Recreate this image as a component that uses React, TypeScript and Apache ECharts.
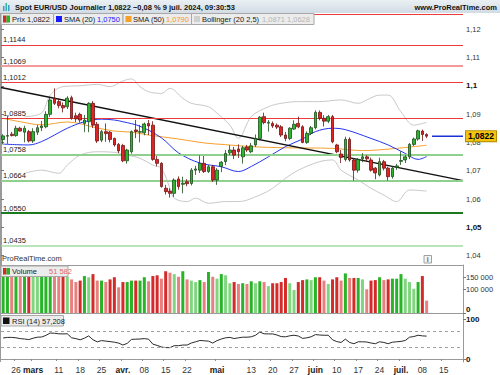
import React, { useEffect, useRef } from 'react';
import * as echarts from 'echarts';

const FONT = '"Liberation Sans", Arial, sans-serif';

// ---------- data ----------
const startDate = '2024-02-21';
const slotCount = 108; // trading-day slots shown on the time axis (through 19 juil.)

// [open, high, low, close]
const candles: number[][] = [
  [1.0810, 1.0829, 1.0793, 1.0823], [1.0822, 1.0895, 1.0795, 1.0824], [1.0829, 1.0837, 1.0821, 1.0824],
  [1.0824, 1.0859, 1.0820, 1.0850], [1.0850, 1.0855, 1.0838, 1.0840], [1.0836, 1.0859, 1.0800, 1.0850],
  [1.0838, 1.0844, 1.0800, 1.0805], [1.0805, 1.0850, 1.0798, 1.0838], [1.0836, 1.0862, 1.0826, 1.0852],
  [1.0852, 1.0876, 1.0840, 1.0858], [1.0855, 1.0910, 1.0850, 1.0899], [1.0899, 1.0958, 1.0890, 1.0950],
  [1.0956, 1.0991, 1.0932, 1.0938], [1.0944, 1.0955, 1.0920, 1.0930], [1.0930, 1.0941, 1.0906, 1.0922],
  [1.0926, 1.0963, 1.0918, 1.0956], [1.0958, 1.0965, 1.0880, 1.0885], [1.0894, 1.0905, 1.0872, 1.0883],
  [1.0899, 1.0905, 1.0870, 1.0879], [1.0867, 1.0897, 1.0836, 1.0879], [1.0873, 1.0942, 1.0836, 1.0938],
  [1.0938, 1.0946, 1.0851, 1.0861], [1.0864, 1.0872, 1.0798, 1.0805], [1.0808, 1.0844, 1.0801, 1.0838],
  [1.0838, 1.0867, 1.0802, 1.0831], [1.0836, 1.0840, 1.0800, 1.0810], [1.0814, 1.0817, 1.0785, 1.0791],
  [1.0793, 1.0798, 1.0762, 1.0770], [1.0789, 1.0795, 1.0730, 1.0735], [1.0735, 1.0778, 1.0725, 1.0773],
  [1.0767, 1.0842, 1.0760, 1.0838], [1.0844, 1.0879, 1.0815, 1.0838], [1.0836, 1.0862, 1.0800, 1.0838],
  [1.0834, 1.0870, 1.0825, 1.0865], [1.0867, 1.0879, 1.0826, 1.0858], [1.0861, 1.0875, 1.0735, 1.0740],
  [1.0740, 1.0752, 1.0715, 1.0726], [1.0726, 1.0730, 1.0640, 1.0644], [1.0638, 1.0650, 1.0616, 1.0626],
  [1.0628, 1.0638, 1.0605, 1.0620], [1.0620, 1.0673, 1.0607, 1.0667], [1.0671, 1.0680, 1.0633, 1.0644],
  [1.0652, 1.0679, 1.0620, 1.0656], [1.0661, 1.0670, 1.0645, 1.0654], [1.0655, 1.0709, 1.0648, 1.0702],
  [1.0702, 1.0717, 1.0685, 1.0706], [1.0702, 1.0754, 1.0692, 1.0726], [1.0726, 1.0752, 1.0692, 1.0697],
  [1.0697, 1.0720, 1.0692, 1.0714], [1.0714, 1.0720, 1.0660, 1.0667], [1.0667, 1.0709, 1.0650, 1.0702],
  [1.0715, 1.0734, 1.0695, 1.0730], [1.0732, 1.0773, 1.0720, 1.0761], [1.0763, 1.0790, 1.0755, 1.0773],
  [1.0773, 1.0784, 1.0741, 1.0755], [1.0777, 1.0793, 1.0745, 1.0767], [1.0749, 1.0788, 1.0725, 1.0781],
  [1.0784, 1.0791, 1.0766, 1.0773], [1.0767, 1.0798, 1.0762, 1.0788], [1.0791, 1.0828, 1.0784, 1.0814],
  [1.0814, 1.0893, 1.0807, 1.0889], [1.0891, 1.0905, 1.0864, 1.0870], [1.0868, 1.0879, 1.0838, 1.0871],
  [1.0867, 1.0874, 1.0851, 1.0858], [1.0861, 1.0867, 1.0847, 1.0854], [1.0855, 1.0861, 1.0819, 1.0826],
  [1.0826, 1.0837, 1.0804, 1.0814], [1.0814, 1.0854, 1.0808, 1.0850], [1.0847, 1.0878, 1.0844, 1.0864],
  [1.0867, 1.0891, 1.0850, 1.0855], [1.0855, 1.0861, 1.0797, 1.0800], [1.0800, 1.0839, 1.0795, 1.0832],
  [1.0832, 1.0858, 1.0826, 1.0852], [1.0852, 1.0913, 1.0846, 1.0906], [1.0906, 1.0913, 1.0878, 1.0885],
  [1.0885, 1.0896, 1.0856, 1.0875], [1.0875, 1.0897, 1.0868, 1.0891], [1.0891, 1.0897, 1.0797, 1.0802],
  [1.0791, 1.0795, 1.0762, 1.0767], [1.0759, 1.0773, 1.0727, 1.0747], [1.0740, 1.0820, 1.0733, 1.0811],
  [1.0811, 1.0818, 1.0732, 1.0738], [1.0738, 1.0745, 1.0665, 1.0702], [1.0702, 1.0745, 1.0693, 1.0740],
  [1.0742, 1.0762, 1.0730, 1.0749], [1.0749, 1.0755, 1.0733, 1.0742], [1.0738, 1.0746, 1.0697, 1.0702],
  [1.0709, 1.0713, 1.0670, 1.0692], [1.0685, 1.0746, 1.0680, 1.0732], [1.0732, 1.0738, 1.0701, 1.0709],
  [1.0709, 1.0714, 1.0665, 1.0679], [1.0679, 1.0716, 1.0672, 1.0709], [1.0712, 1.0724, 1.0703, 1.0717],
  [1.0733, 1.0768, 1.0720, 1.0736], [1.0738, 1.0755, 1.0727, 1.0749], [1.0749, 1.0798, 1.0741, 1.0793],
  [1.0793, 1.0817, 1.0787, 1.0812], [1.0812, 1.0845, 1.0806, 1.0841], [1.0840, 1.0845, 1.0805, 1.0828],
  [1.0828, 1.0832, 1.0815, 1.0822],
];

const volumes: number[] = [
  165000, 178000, 160000, 170000, 158000, 172000, 180000, 168000, 162000, 175000,
  185000, 190000, 176000, 168000, 172000, 151000, 140000, 129000, 135000, 154000,
  149000, 162000, 135000, 135000, 129000, 140000, 149000, 107000, 129000, 129000,
  135000, 135000, 135000, 149000, 132000, 154000, 157000, 143000, 174000, 168000,
  162000, 151000, 174000, 140000, 135000, 129000, 137000, 129000, 171000, 151000,
  143000, 162000, 157000, 124000, 129000, 121000, 124000, 121000, 132000, 124000,
  132000, 129000, 112000, 124000, 124000, 129000, 146000, 124000, 96000, 129000,
  137000, 140000, 137000, 149000, 149000, 135000, 121000, 140000, 149000, 135000,
  165000, 146000, 146000, 146000, 140000, 99000, 135000, 137000, 149000, 137000,
  140000, 143000, 143000, 162000, 143000, 129000, 101000, 129000, 154000, 51582,
];

const rsi: number[] = [
  52.5, 54, 54, 53, 51, 50, 48.5, 52, 54.5, 55,
  59, 65, 64.3, 63, 62.7, 63, 53, 51, 48, 52,
  57.8, 48, 43, 46, 44.7, 43.5, 42, 39.8, 34.9, 39,
  49, 49.6, 50, 51, 49.6, 37, 34, 30, 28.5, 28.4,
  33.3, 33.3, 34.9, 34.9, 40, 43, 46.3, 45.5, 44.7, 39.8,
  46, 50, 53, 54, 51.2, 52.9, 54.5, 54.5, 55.5, 59.4,
  67.5, 63, 62.7, 62.7, 60, 56, 55.5, 58, 59.4, 57.5,
  51.5, 53, 55.5, 61, 60, 59.4, 59.4, 48, 43.5, 41.4,
  49.6, 41.4, 38.2, 43, 43, 42.5, 40, 38.2, 43, 41.4,
  38.2, 42, 43, 44, 46.3, 54.5, 56.1, 59.4, 57.8, 57.208,
];

// indicator readings: [candle index, value]
const sma20Pts: number[][] = [
  [0, 1.0794], [6, 1.0791], [9, 1.0803], [12, 1.0826], [15, 1.085], [19, 1.0873], [23, 1.0882],
  [26, 1.0879], [28, 1.0873], [32, 1.0857], [37, 1.0816], [41, 1.0763], [46, 1.0727], [51, 1.0714],
  [55, 1.0697], [58, 1.0715], [62, 1.0749], [66, 1.0785], [70, 1.0812], [73, 1.0838], [77, 1.085],
  [80, 1.0845], [86, 1.0814], [90, 1.0791], [94, 1.0761], [97, 1.074], [99, 1.075],
];
const sma50Pts: number[][] = [
  [0, 1.0885], [4, 1.0873], [9, 1.0862], [15, 1.0872], [22, 1.0851], [26, 1.084], [30, 1.0836],
  [34, 1.0826], [41, 1.0812], [47, 1.0798], [52, 1.0792], [58, 1.0785], [66, 1.0781], [77, 1.0779],
  [84, 1.0771], [92, 1.0779], [99, 1.079],
];
const bbUpperPts: number[][] = [
  [5, 1.0891], [9, 1.0904], [11, 1.0967], [14, 1.0997], [18, 1.1], [22, 1.1005], [25, 1.0997],
  [28, 1.1017], [30, 1.1024], [32, 1.0997], [34, 1.0979], [37, 1.0973], [39, 1.0991], [42, 1.0956],
  [44, 1.0938], [48, 1.0926], [50, 1.0903], [53, 1.0861], [55, 1.0814], [58, 1.0891], [62, 1.0926],
  [65, 1.0938], [69, 1.0944], [74, 1.0944], [79, 1.095], [83, 1.0938], [85, 1.095], [88, 1.0967],
  [90, 1.0967], [93, 1.0908], [96, 1.0861], [99, 1.0871],
];
const bbLowerPts: number[][] = [
  [5, 1.0691], [9, 1.0702], [13, 1.0691], [15, 1.072], [18, 1.0755], [22, 1.0767], [26, 1.0765],
  [29, 1.0755], [32, 1.0744], [35, 1.072], [37, 1.0708], [39, 1.0638], [40, 1.0603], [43, 1.0591],
  [45, 1.0603], [48, 1.0585], [52, 1.0591], [55, 1.0591], [60, 1.0614], [63, 1.0638], [66, 1.0673],
  [69, 1.0702], [74, 1.0732], [77, 1.0738], [79, 1.0702], [83, 1.0667], [86, 1.0638], [89, 1.0614],
  [92, 1.0591], [95, 1.0632], [99, 1.0628],
];

const levels: number[] = [1.1253, 1.1144, 1.1069, 1.1012, 1.0885, 1.0758, 1.0664, 1.055, 1.0435];
const trendLine: number[] = [1.0994, 1.0665]; // price at left and right edge of the price panel

const priceTicks: number[] = [1.04, 1.05, 1.06, 1.07, 1.08, 1.09, 1.1, 1.11, 1.12];
const boldPriceTicks: number[] = [1.05, 1.1];
const volumeTicks: number[] = [0, 100000, 150000];
const rsiTicks: number[] = [0, 100];
const rsiBands: number[] = [30, 70];

const xTickLabels: Record<string, string> = {
  '2024-02-26': '26', '2024-03-01': 'mars', '2024-03-11': '11', '2024-03-18': '18', '2024-03-25': '25',
  '2024-04-01': 'avr.', '2024-04-08': '08', '2024-04-15': '15', '2024-04-22': '22', '2024-05-01': 'mai',
  '2024-05-13': '13', '2024-05-20': '20', '2024-05-27': '27', '2024-06-03': 'juin', '2024-06-10': '10',
  '2024-06-17': '17', '2024-06-24': '24', '2024-07-01': 'juil.', '2024-07-08': '08', '2024-07-15': '15',
};
const monthLabels: string[] = ['mars', 'avr.', 'mai', 'juin', 'juil.'];

const sma20Last = 1.075;
const sma50Last = 1.079;
const bbLast: number[] = [1.0871, 1.0628];
const changePct = -0.08;

// ---------- helpers ----------
function weekdayDates(start: string, n: number): string[] {
  const out: string[] = [];
  const d = new Date(start + 'T00:00:00Z');
  while (out.length < n) {
    const wd = d.getUTCDay();
    if (wd !== 0 && wd !== 6) out.push(d.toISOString().slice(0, 10));
    d.setUTCDate(d.getUTCDate() + 1);
  }
  return out;
}
const fr = (v: number, d: number) => v.toFixed(d).replace('.', ',');
const frVol = (v: number) => String(Math.round(v)).replace(/\B(?=(\d{3})+(?!\d))/g, ' ');

export default function App() {
  const ref = useRef<HTMLDivElement>(null);

  useEffect(() => {
    document.body.style.margin = '0';
    if (!ref.current) return;
    const chart = echarts.init(ref.current, undefined, { renderer: 'svg' });

    const dates = weekdayDates(startDate, slotCount);
    const lastClose = candles[candles.length - 1][3];
    const lastVol = volumes[volumes.length - 1];
    const lastRsi = rsi[rsi.length - 1];

    const candleData = candles.map(([o, h, l, c]) => [o, c, l, h]);
    const volData = volumes.map((v, i) => {
      const up = candles[i][3] >= candles[i][0];
      const strong = i === 0 || v >= volumes[i - 1];
      const color = up ? (strong ? '#27b427' : '#7fd67f') : strong ? '#d42a2a' : '#e88080';
      return { value: v, itemStyle: { color } };
    });

    const levelStyle = (v: number) => {
      if (v === 1.1069) return { color: '#f39a9a', width: 2 };
      if (v === 1.0758 || v === 1.0664) return { color: '#8fd08f', width: 2 };
      if (v === 1.055) return { color: '#1b7a1b', width: 2 };
      if (v === 1.0435) return { color: '#a3dba3', width: 1.5 };
      return { color: '#ec3b3b', width: 1.2 };
    };

    const smoothLine = (pts: number[][], color: string) => ({
      type: 'line',
      xAxisIndex: 0,
      yAxisIndex: 0,
      data: pts,
      smooth: 0.35,
      symbol: 'none',
      silent: true,
      lineStyle: { color, width: 1 },
      z: 2,
    });

    const text = (x: number, y: number, t: string, fill = '#222', font = `7.5px ${FONT}`) => ({
      type: 'text',
      x,
      y,
      z: 20,
      style: { text: t, fill, font, verticalAlign: 'middle', align: 'left' },
    });
    const rect = (x: number, y: number, w: number, h: number, fill: string, stroke?: string) => ({
      type: 'rect',
      z: 19,
      shape: { x, y, width: w, height: h },
      style: stroke ? { fill, stroke, lineWidth: 1 } : { fill },
    });

    const option: any = {
      animation: false,
      textStyle: { fontFamily: FONT },
      grid: [
        { left: 1, width: 462, top: 13, height: 252 },
        { left: 1, width: 462, top: 265, height: 48 },
        { left: 1, width: 462, top: 313, height: 49 },
      ],
      xAxis: [
        {
          type: 'category', gridIndex: 0, data: dates, boundaryGap: true,
          axisLine: { show: true, lineStyle: { color: '#9a9a9a' } },
          axisTick: { show: false }, axisLabel: { show: false }, splitLine: { show: false },
        },
        {
          type: 'category', gridIndex: 1, data: dates, boundaryGap: true,
          axisLine: { show: true, lineStyle: { color: '#9a9a9a' } },
          axisTick: { show: false }, axisLabel: { show: false }, splitLine: { show: false },
        },
        {
          type: 'category', gridIndex: 2, data: dates, boundaryGap: true,
          axisLine: { show: true, lineStyle: { color: '#9a9a9a' } },
          axisTick: {
            show: true, length: 2, lineStyle: { color: '#888' },
            interval: (_i: number, v: string) => v in xTickLabels,
          },
          axisLabel: {
            interval: (_i: number, v: string) => v in xTickLabels,
            formatter: (v: string) => {
              const t = xTickLabels[v] || '';
              return monthLabels.includes(t) ? `{b|${t}}` : t;
            },
            fontSize: 8.5, color: '#333', margin: 3,
            rich: { b: { fontWeight: 'bold', fontSize: 8.5, color: '#222' } },
          },
          splitLine: { show: false },
        },
        { type: 'value', gridIndex: 0, min: 0, max: 1, show: false, position: 'top' },
      ],
      yAxis: [
        {
          type: 'value', gridIndex: 0, position: 'right', min: 1.0367, max: 1.1257,
          axisLine: { show: true, lineStyle: { color: '#9a9a9a' } },
          axisTick: { show: true, length: 3, customValues: priceTicks, lineStyle: { color: '#777' } },
          axisLabel: {
            customValues: priceTicks, margin: 3, fontSize: 7.5, color: '#333',
            formatter: (v: number) => {
              const s = String(Number(v.toFixed(4))).replace('.', ',');
              return boldPriceTicks.some((b) => Math.abs(b - v) < 1e-6) ? `{b|${s}}` : s;
            },
            rich: { b: { fontWeight: 'bold', fontSize: 8, color: '#111' } },
          },
          splitLine: { show: false },
        },
        {
          type: 'value', gridIndex: 1, position: 'right', min: 0, max: 200000,
          axisLine: { show: true, lineStyle: { color: '#9a9a9a' } },
          axisTick: { show: true, length: 3, customValues: volumeTicks, lineStyle: { color: '#777' } },
          axisLabel: {
            customValues: volumeTicks, margin: 3, fontSize: 7.5, color: '#333',
            formatter: (v: number) => (v === 0 ? '{z|0}' : frVol(v)),
            rich: { z: { fontWeight: 'bold', fontSize: 8, color: '#111', padding: [0, 0, 7, 0] } },
          },
          splitLine: { show: false },
        },
        {
          type: 'value', gridIndex: 2, position: 'right', min: -7.5, max: 115,
          axisLine: { show: true, lineStyle: { color: '#9a9a9a' } },
          axisTick: { show: true, length: 3, customValues: rsiTicks, lineStyle: { color: '#777' } },
          axisLabel: {
            customValues: rsiTicks, margin: 3, fontSize: 8, color: '#111',
            formatter: (v: number) => `{b|${v}}`,
            rich: { b: { fontWeight: 'bold', fontSize: 8, color: '#111' } },
          },
          splitLine: { show: false },
        },
      ],
      series: [
        smoothLine(bbUpperPts, '#c9c9c9'),
        smoothLine(bbLowerPts, '#c9c9c9'),
        smoothLine(sma50Pts, '#f6a02c'),
        smoothLine(sma20Pts, '#2436ee'),
        {
          type: 'line', xAxisIndex: 3, yAxisIndex: 0, silent: true,
          data: [[0, trendLine[0]], [1, trendLine[1]]],
          symbol: 'none', lineStyle: { color: '#111', width: 1.5 }, z: 4,
        },
        {
          type: 'candlestick', xAxisIndex: 0, yAxisIndex: 0, data: candleData, barWidth: 3.2,
          itemStyle: {
            color: '#2db52d', color0: '#e02424',
            borderColor: '#1d4d1d', borderColor0: '#6e1414', borderWidth: 0.8,
          },
          z: 5,
          markLine: {
            silent: true, symbol: ['none', 'none'], animation: false, precision: 4,
            data: levels.map((v, i) => ({
              yAxis: v,
              lineStyle: { ...levelStyle(v), type: 'solid' },
              label: {
                show: i > 0, position: 'insideStartTop', formatter: fr(v, 4),
                fontSize: 7.5, color: '#222', distance: [2, 1],
              },
            })),
          },
        },
        {
          type: 'line', xAxisIndex: 3, yAxisIndex: 0, silent: true,
          data: [[0.9329, lastClose], [1, lastClose]],
          symbol: 'none', lineStyle: { color: '#1f2fd6', width: 1.5 }, z: 6,
          endLabel: {
            show: true, formatter: fr(lastClose, 4), distance: 3,
            backgroundColor: '#f5c40f', borderColor: '#b58d00', borderWidth: 1,
            padding: [1, 2, 0, 2], fontWeight: 'bold', fontSize: 8.5, color: '#000',
          },
        },
        {
          type: 'bar', xAxisIndex: 1, yAxisIndex: 1, data: volData, barWidth: 3, silent: true,
          markLine: {
            silent: true, symbol: ['none', 'none'], animation: false, precision: 0,
            data: [{
              yAxis: lastVol, lineStyle: { opacity: 0 },
              label: {
                show: true, position: 'end', formatter: frVol(lastVol), distance: 3,
                color: '#e06060', fontSize: 7.5, backgroundColor: '#fff',
                borderColor: '#9a9a9a', borderWidth: 1, padding: [1, 2, 0, 2],
              },
            }],
          },
        },
        {
          type: 'line', xAxisIndex: 2, yAxisIndex: 2, data: rsi, symbol: 'none', silent: true,
          lineStyle: { color: '#2a2a2a', width: 1 },
          markLine: {
            silent: true, symbol: ['none', 'none'], animation: false, precision: 3,
            data: [
              ...rsiBands.map((b) => ({
                yAxis: b, lineStyle: { color: '#a0a0a0', type: [3, 3], width: 1 }, label: { show: false },
              })),
              {
                yAxis: lastRsi, lineStyle: { opacity: 0 },
                label: {
                  show: true, position: 'end', formatter: fr(lastRsi, 3), distance: 3,
                  color: '#333', fontSize: 7.5, backgroundColor: '#fff',
                  borderColor: '#9a9a9a', borderWidth: 1, padding: [1, 2, 0, 2],
                },
              },
            ],
          },
        },
      ],
      graphic: [
        {
          type: 'rect', z: 18, shape: { x: 0, y: 0, width: 500, height: 13 },
          style: {
            fill: new echarts.graphic.LinearGradient(0, 0, 0, 1, [
              { offset: 0, color: '#eaf0f4' },
              { offset: 1, color: '#d2dce4' },
            ]),
          },
        },
        rect(3, 6, 1.5, 5, '#3c9ad6'),
        rect(5.5, 3, 1.5, 8, '#35b49a'),
        rect(8, 5, 1.5, 6, '#3c9ad6'),
        text(15, 7, `Spot EUR/USD Journalier ${fr(lastClose, 4)} \u2212${fr(Math.abs(changePct), 2)} % 9 juil. 2024, 09:30:53`, '#111', `bold 7.5px ${FONT}`),
        {
          type: 'text', x: 497, y: 7, z: 20,
          style: { text: 'www.ProRealTime.com', fill: '#111', font: `bold 7.5px ${FONT}`, verticalAlign: 'middle', align: 'right' },
        },
        { type: 'line', z: 18, shape: { x1: 0.5, y1: 13, x2: 0.5, y2: 362 }, style: { stroke: '#9a9a9a', lineWidth: 1 } },
        // price legend
        rect(1, 13.5, 52.5, 11, '#ececec', '#a8a8a8'),
        rect(3, 15.5, 3.5, 7, '#d42a2a'),
        rect(6.5, 15.5, 3.5, 7, '#27b427'),
        text(12, 19.2, `Prix ${fr(lastClose, 4)}`),
        rect(53.5, 13.5, 69.5, 11, '#ececec', '#a8a8a8'),
        rect(56, 16, 6, 6, '#1a1aff'),
        text(64, 19.2, 'SMA (20)'),
        text(97, 19.2, fr(sma20Last, 4), '#1a1aff'),
        rect(123, 13.5, 68.5, 11, '#ececec', '#a8a8a8'),
        rect(125.5, 16, 6, 6, '#f6a02c'),
        text(133, 19.2, 'SMA (50)'),
        text(166, 19.2, fr(sma50Last, 4), '#f39a1e'),
        rect(191.5, 13.5, 122.5, 11, '#ececec', '#a8a8a8'),
        rect(194, 16, 6, 6, '#cfcfcf'),
        text(202, 19.2, 'Bollinger (20 2,5)'),
        text(262, 19.2, `${fr(bbLast[0], 4)} ${fr(bbLast[1], 4)}`, '#b5b5b5'),
        // footer text of price panel
        text(2, 258.5, 'ProRealTime.com', '#333'),
        rect(424, 255.5, 7.5, 7.5, '#f4f4f4', '#a0a0a0'),
        {
          type: 'text', x: 427.75, y: 259.5, z: 20,
          style: { text: 'i', fill: '#666', font: `bold 7px ${FONT}`, verticalAlign: 'middle', align: 'center' },
        },
        // volume legend
        rect(1, 266, 67, 10.5, '#ececec', '#a8a8a8'),
        rect(3, 268, 3.5, 6.5, '#d42a2a'),
        rect(6.5, 268, 3.5, 6.5, '#27b427'),
        text(12, 271.5, 'Volume'),
        text(49, 271.5, frVol(lastVol), '#e06868'),
        // rsi legend
        rect(1, 315.5, 62.5, 10.5, '#ececec', '#a8a8a8'),
        rect(3, 317.5, 6.5, 6.5, '#111'),
        text(12, 321, `RSI (14) ${fr(lastRsi, 3)}`),
      ],
    };

    chart.setOption(option);
    return () => chart.dispose();
  }, []);

  return <div ref={ref} style={{ width: 500, height: 375 }} />;
}
